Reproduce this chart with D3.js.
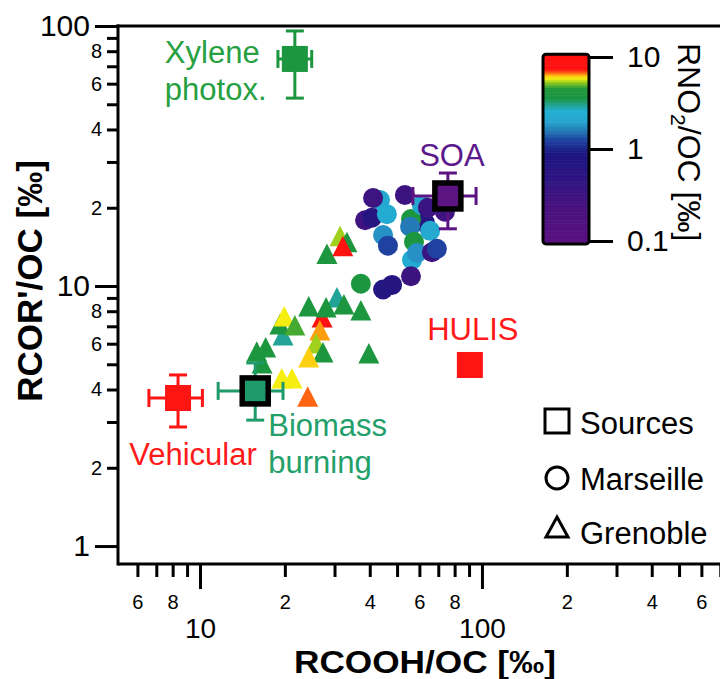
<!DOCTYPE html>
<html><head><meta charset="utf-8">
<script src="https://cdn.jsdelivr.net/npm/d3@7"></script>
<style>
body{margin:0;background:#fff}
text{font-family:"Liberation Sans",Arial,Helvetica,sans-serif}
</style>
</head><body>
<svg id="chart" width="720" height="679"></svg>
<script>
// ---------- DATA ----------
// Marseille (circles): RCOOH/OC, RCOR'/OC, RNO2/OC  [‰]
const marseilleX    = [43.5, 41.1, 53.3, 38.5, 40.7, 46.0, 62.8, 56.0, 55.6, 44.6, 46.4, 57.4, 65.5, 61.2, 64.3, 73.9, 56.5, 58.8, 66.5, 69.2, 56.0, 48.0, 44.6, 37.2];
const marseilleY    = [21.4, 21.8, 22.4, 17.9, 18.3, 18.9, 17.5, 18.1, 16.9, 15.7, 14.3, 14.8, 16.3, 20.5, 20.0, 19.3, 12.6, 13.4, 13.5, 13.9, 10.9, 10.1, 9.7, 10.2];
const marseilleRNO2 = [2.2, 0.32, 0.34, 0.30, 0.62, 2.3, 0.6, 4.0, 1.6, 1.8, 1.25, 4.0, 2.2, 2.2, 0.35, 0.3, 2.3, 1.8, 0.35, 1.25, 0.33, 0.62, 0.65, 4.0];

// Grenoble (triangles)
const grenobleX    = [31.4, 33.2, 32.1, 28.2, 30.6, 24.3, 27.1, 28.0, 32.4, 37.2, 19.7, 19.2, 19.9, 21.7, 26.6, 27.3, 25.8, 24.3, 39.7, 15.9, 17.1, 16.6, 19.5, 21.2, 24.1];
const grenobleY    = [15.2, 14.4, 13.9, 13.0, 8.84, 8.16, 7.40, 8.09, 8.30, 7.88, 6.31, 6.95, 7.46, 6.89, 6.59, 5.43, 5.88, 5.19, 5.38, 5.47, 5.68, 4.92, 4.31, 4.31, 3.67];
const grenobleRNO2 = [5.4, 4.0, 8.5, 4.0, 3.0, 4.0, 8.5, 3.9, 4.0, 4.0, 3.0, 4.0, 5.9, 4.8, 6.5, 4.0, 5.4, 6.2, 4.0, 4.0, 4.0, 4.0, 5.9, 5.9, 6.8];

// Sources (squares) with error bars
const sourceNames = ["Xylene photox.", "SOA", "HULIS", "Vehicular", "Biomass burning"];
const sourceX   = [21.7, 75.7, 90.6, 8.36, 15.7];
const sourceY   = [74.7, 22.2, 4.97, 3.71, 3.95];
const sourceXLo = [18.9, 56.9, null, 6.59, 11.6];
const sourceXHi = [24.9, 95.3, null, 10.2, 19.7];
const sourceYLo = [52.8, 16.6, null, 2.87, 3.05];
const sourceYHi = [95.7, 27.2, null, 4.55, 5.06];

// Ticks
const xMinorTicks = [6,7,8,9,20,30,40,50,60,70,80,90,200,300,400,500,600,700];
const xMinorLabels = {6:"6",8:"8",20:"2",40:"4",60:"6",80:"8",200:"2",400:"4",600:"6"};
const xMajorTicks = [10,100];
const yMinorTicks = [2,3,4,5,6,7,8,9,20,30,40,50,60,70,80,90];
const yMinorLabels = {2:"2",4:"4",6:"6",8:"8",20:"2",40:"4",60:"6",80:"8"};
const yMajorTicks = [1,10,100];
const cbTicks = [0.1,1,10];

// ---------- STYLE ----------
const srcStyle = {
  "Xylene photox.": {fill:"#1c963f", border:false},
  "SOA":            {fill:"#5c1482", border:true},
  "HULIS":          {fill:"#ff1414", border:false},
  "Vehicular":      {fill:"#ff1414", border:false},
  "Biomass burning":{fill:"#1f9a6a", border:true}
};
const cStops = [-1.0,-0.6,-0.3,-0.05,0.1,0.2,0.3,0.42,0.49,0.56,0.66,0.72,0.77,0.8,0.83,0.87,1.0];
const cCols  = ["#5b1080","#47137f","#2c1582","#1c1580","#1f42a0","#2478b6","#27a5d0","#22b0d2","#21a08a","#1a9641","#22993c","#84c520","#f5ef10","#ffc412","#ff6a10","#ff1212","#ff1212"];
const cmap = d3.scaleLinear().domain(cStops).range(cCols).clamp(true);
const colorOf = v => cmap(Math.log10(v));

// ---------- SCALES ----------
const svg = d3.select("#chart");
const x = d3.scaleLog().domain([5.12, 710]).range([118, 722]);
const y = d3.scaleLog().domain([0.853, 100]).range([564, 26]);

// ---------- MARKS ----------
const tri = "M0,-13L10.5,7.5L-10.5,7.5Z";
const gT = svg.append("g");
const triOrder = [0,1,3,2,4,6,5,7,8,9,10,11,12,13,14,16,15,17,18,19,20,21,22,23,24];
triOrder.forEach(i => {
  gT.append("path").attr("d", tri)
    .attr("transform", `translate(${x(grenobleX[i])},${y(grenobleY[i])})`)
    .attr("fill", colorOf(grenobleRNO2[i]));
});
const gC = svg.append("g");
marseilleX.forEach((v,i) => {
  gC.append("circle").attr("cx", x(v)).attr("cy", y(marseilleY[i])).attr("r", 10)
    .attr("fill", colorOf(marseilleRNO2[i]));
});

// sources
const gS = svg.append("g");
sourceNames.forEach((n,i) => {
  const st = srcStyle[n];
  const cx = x(sourceX[i]), cy = y(sourceY[i]);
  if (sourceXLo[i] != null) {
    const g = gS.append("g").attr("stroke", st.fill).attr("stroke-width", 3);
    const xl = x(sourceXLo[i]), xh = x(sourceXHi[i]), yl = y(sourceYLo[i]), yh = y(sourceYHi[i]);
    g.append("line").attr("x1", xl).attr("x2", xh).attr("y1", cy).attr("y2", cy);
    g.append("line").attr("x1", xl).attr("x2", xl).attr("y1", cy-9).attr("y2", cy+9);
    g.append("line").attr("x1", xh).attr("x2", xh).attr("y1", cy-9).attr("y2", cy+9);
    g.append("line").attr("x1", cx).attr("x2", cx).attr("y1", yl).attr("y2", yh);
    g.append("line").attr("x1", cx-9).attr("x2", cx+9).attr("y1", yl).attr("y2", yl);
    g.append("line").attr("x1", cx-9).attr("x2", cx+9).attr("y1", yh).attr("y2", yh);
  }
  const r = gS.append("rect").attr("x", cx-13).attr("y", cy-13).attr("width", 26).attr("height", 26)
    .attr("fill", st.fill);
  if (st.border) r.attr("stroke", "#000").attr("stroke-width", 5.5);
});

// source labels
const lab = (tx, ty, str, col, anchor) => svg.append("text").attr("x", tx).attr("y", ty)
  .attr("fill", col).attr("font-size", 31).attr("text-anchor", anchor || "start").text(str);
lab(x(sourceX[0]) - 130, y(sourceY[0]) + 4, "Xylene", "#26a040");
lab(x(sourceX[0]) - 130, y(sourceY[0]) + 41, "photox.", "#26a040");
lab(x(sourceX[1]) + 4, y(sourceY[1]) - 30, "SOA", "#5c1a8c", "middle");
lab(x(sourceX[2]) + 3, y(sourceY[2]) - 25, "HULIS", "#ff1a1a", "middle");
lab(x(sourceX[3]) + 15, y(sourceY[3]) + 67, "Vehicular", "#ff1a1a", "middle");
lab(x(sourceX[4]) + 13, y(sourceY[4]) + 45, "Biomass", "#23a06a");
lab(x(sourceX[4]) + 13, y(sourceY[4]) + 82, "burning", "#23a06a");

// ---------- AXES ----------
const xMin = svg.append("g").attr("transform", "translate(0,564)")
  .call(d3.axisBottom(x).tickValues(xMinorTicks).tickSize(13).tickPadding(18)
    .tickFormat(d => xMinorLabels[d] || ""));
xMin.selectAll("text").attr("font-size", 20);
const xMaj = svg.append("g").attr("transform", "translate(0,564)")
  .call(d3.axisBottom(x).tickValues(xMajorTicks).tickSize(25).tickPadding(29)
    .tickFormat(d3.format("d")));
xMaj.selectAll("text").attr("font-size", 28);

const yMin = svg.append("g").attr("transform", "translate(118,0)")
  .call(d3.axisLeft(y).tickValues(yMinorTicks).tickSize(11).tickPadding(5)
    .tickFormat(d => yMinorLabels[d] || ""));
yMin.selectAll("text").attr("font-size", 20);
const yMaj = svg.append("g").attr("transform", "translate(118,0)")
  .call(d3.axisLeft(y).tickValues(yMajorTicks).tickSize(23).tickPadding(5)
    .tickFormat(d3.format("d")));
yMaj.selectAll("text").attr("font-size", 30);

svg.selectAll(".domain").remove();
svg.selectAll(".tick line").attr("stroke", "#000").attr("stroke-width", 3);
svg.selectAll(".tick text").attr("fill", "#000").style("font-family", '"Liberation Sans",Arial,sans-serif');

// frame lines
svg.append("line").attr("x1", 118).attr("x2", 720).attr("y1", 564).attr("y2", 564).attr("stroke", "#000").attr("stroke-width", 3);
svg.append("line").attr("x1", 118).attr("x2", 118).attr("y1", 24.5).attr("y2", 565.5).attr("stroke", "#000").attr("stroke-width", 3);
svg.append("line").attr("x1", 116.5).attr("x2", 720).attr("y1", 26).attr("y2", 26).attr("stroke", "#000").attr("stroke-width", 3);

// axis titles
svg.append("text").attr("x", 425).attr("y", 673).attr("text-anchor", "middle")
  .attr("font-size", 31).attr("font-weight", "bold")
  .attr("textLength", 262).attr("lengthAdjust", "spacingAndGlyphs").text("RCOOH/OC [‰]");
svg.append("text").attr("transform", "translate(42,281) rotate(-90)").attr("text-anchor", "middle")
  .attr("font-size", 35).attr("font-weight", "bold").text("RCOR'/OC [‰]");

// ---------- COLORBAR ----------
const cbY = d3.scaleLog().domain([0.1, 10]).range([241, 57]);
const cb = svg.append("g");
const nSteps = 120;
for (let k = 0; k < nSteps; k++) {
  const l0 = -1.03 + k * (2.06 / nSteps), l1 = l0 + 2.06 / nSteps;
  const y0 = cbY(Math.pow(10, l1)), y1 = cbY(Math.pow(10, l0));
  cb.append("rect").attr("x", 543).attr("y", y0).attr("width", 46).attr("height", y1 - y0 + 0.6)
    .attr("fill", cmap((l0 + l1) / 2));
}
cb.append("rect").attr("x", 543).attr("y", cbY(10.7)).attr("width", 46)
  .attr("height", cbY(0.093) - cbY(10.7)).attr("rx", 3)
  .attr("fill", "none").attr("stroke", "#000").attr("stroke-width", 3);
const cbAx = svg.append("g").attr("transform", "translate(589,0)")
  .call(d3.axisRight(cbY).tickValues(cbTicks).tickSize(24).tickPadding(14)
    .tickFormat(d => d < 1 ? "0.1" : String(d)));
cbAx.select(".domain").remove();
cbAx.selectAll(".tick line").attr("stroke", "#000").attr("stroke-width", 3);
cbAx.selectAll("text").attr("font-size", 30).attr("fill", "#000");
const cbt = svg.append("text").attr("transform", "translate(678,43) rotate(90)")
  .attr("font-size", 32);
cbt.append("tspan").text("RNO");
cbt.append("tspan").attr("font-size", 21).attr("dy", 7).text("2");
cbt.append("tspan").attr("dy", -7).text("/OC [‰]");

// ---------- LEGEND ----------
const lg = svg.append("g").attr("fill", "none").attr("stroke", "#000").attr("stroke-width", 3);
lg.append("rect").attr("x", 545).attr("y", 409).attr("width", 24).attr("height", 24);
lg.append("circle").attr("cx", 557).attr("cy", 478).attr("r", 11);
lg.append("path").attr("d", "M557,517L568,537L546,537Z");
const lt = (ty, s) => svg.append("text").attr("x", 580).attr("y", ty).attr("font-size", 31).attr("fill", "#000").text(s);
lt(434, "Sources");
lt(490, "Marseille");
lt(544, "Grenoble");
</script>
</body></html>
